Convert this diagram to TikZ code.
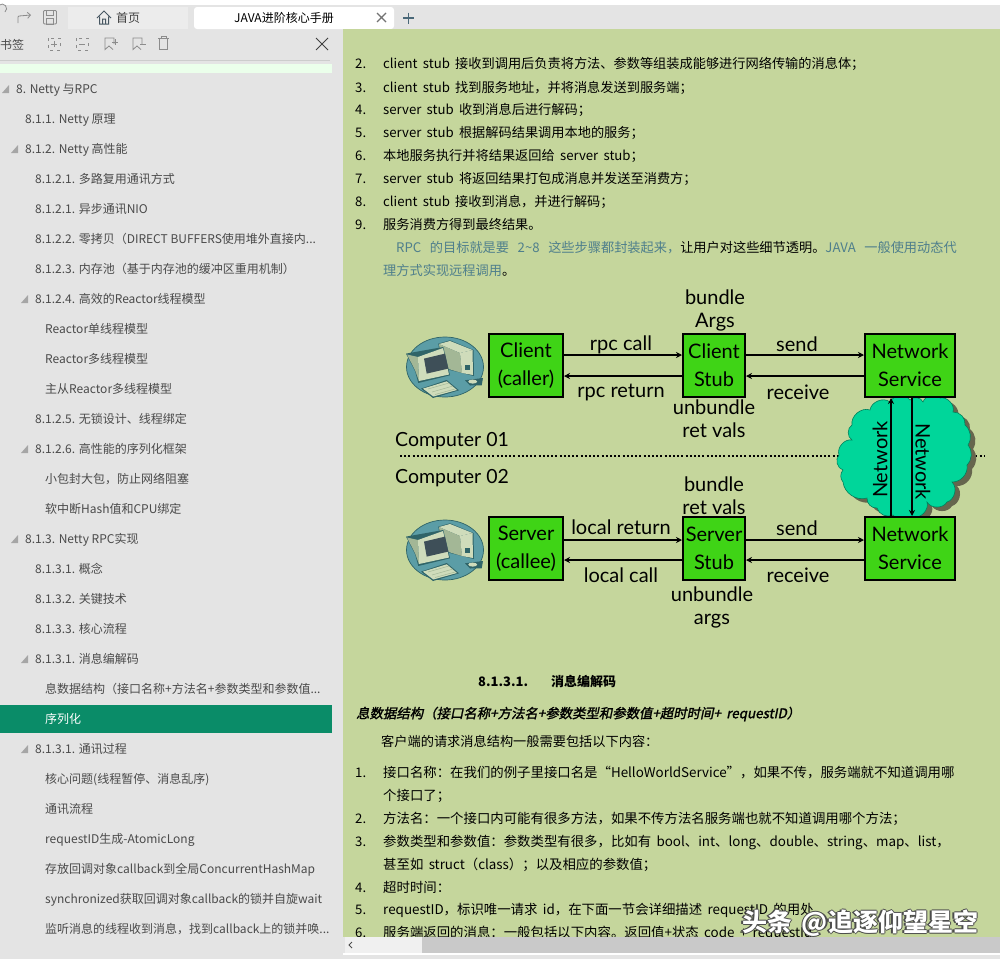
\documentclass[tikz,border=0pt]{standalone}
\usepackage{fontspec}
\setmainfont{Noto Sans CJK SC}
\newfontfamily\slantcjk[FakeSlant=0.2,FakeBold=1.6]{Noto Sans CJK SC}
\newfontfamily\comicfont{Lato}
\usetikzlibrary{arrows.meta,calc,positioning}
\definecolor{panelgray}{HTML}{E4E4E4}
\definecolor{pagegreen}{HTML}{C5D69C}
\definecolor{boxgreen}{HTML}{3FD416}
\definecolor{cloudgreen}{HTML}{00D69A}
\definecolor{cloudshadow}{HTML}{66664E}
\definecolor{selgreen}{HTML}{0A8C68}
\definecolor{toctext}{HTML}{4A4A4A}
\definecolor{linkblue}{HTML}{4F7F8C}
\definecolor{iconteal}{HTML}{5B9DA6}
\definecolor{icondark}{HTML}{2F6468}
\definecolor{iconpale}{HTML}{CFDCBB}
\definecolor{iconmid}{HTML}{A3B796}
\definecolor{iconscreen}{HTML}{3E4F58}
\tikzset{
  toclabel/.style={anchor=mid west,inner sep=0,yshift=-2.5,font=\fontsize{12}{12}\selectfont,text=toctext},
  pagelabel/.style={anchor=mid west,inner sep=0,yshift=-2.5,font=\fontsize{13.2}{13.2}\selectfont,text=black,execute at begin node={\spaceskip=.4em}},
  listlabel/.style={pagelabel,font=\fontsize{13.4}{13.4}\selectfont},
  netbox/.style={draw=black,line width=2pt,fill=boxgreen,minimum height=63,align=center,inner sep=0,font=\comicfont\fontsize{20}{28}\selectfont},
  flowlabel/.style={inner sep=0,yshift=-0.5,font=\comicfont\fontsize{20}{23}\selectfont,align=center},
  complabel/.style={anchor=mid west,inner sep=0,yshift=-4.5,font=\comicfont\fontsize{19.5}{20}\selectfont},
  flowline/.style={line width=1.7pt,-{Stealth[length=6pt,width=6pt]}},
  toolicon/.style={draw=black!45,line width=0.8pt},
  pccomp/.pic={
    \fill[iconteal] (0,0) ellipse (38.5 and 30);
    \draw[icondark,line width=0.7pt] (0,0) ellipse (38.5 and 30);
    \fill[icondark] (-6.7,-23.4) -- (5,-26.7) -- (28.5,-17) -- (29,9) -- (-3,1) -- cycle;
    \fill[iconpale] (-6,-23) -- (5,-26) -- (27.5,-17) -- (15,-14) -- cycle;
    \fill[iconmid] (-6,-23) -- (15,-14) -- (17,6) -- (-3,0) -- cycle;
    \fill[iconpale] (15,-14) -- (27.5,-17) -- (28,8) -- (17,6) -- cycle;
    \fill[icondark] (20,-2) rectangle (25,3);
    \fill[icondark] (-39,-13.4) -- (-1.7,-20) -- (5,8.3) -- (-26.7,16) -- (-30,4) -- cycle;
    \fill[iconmid] (-38,-12.5) -- (-27,-10) -- (-26,14) -- (-30,3) -- cycle;
    \fill[iconpale] (-27,-10) -- (-2,-19) -- (4,7.5) -- (-26,14) -- cycle;
    \fill[iconscreen] (-21,-8.4) -- (0,-13.4) -- (3.3,1.6) -- (-18.3,6.6) -- cycle;
    \fill[icondark] (-24,21.6) -- (1.7,13) -- (14,23.3) -- (-12,31) -- cycle;
    \fill[iconpale] (-22,21.6) -- (1.7,14.3) -- (12,23) -- (-11.7,29.5) -- cycle;
    \draw[iconmid,line width=0.5pt] (-17,22) -- (4,16) (-13,25) -- (8,19) (-10,27.5) -- (10,22);
    \fill[icondark] (20,13.3) -- (38,11) -- (36.7,18.3) -- (25,18.5) -- cycle;
    \fill[iconpale] (27.7,14.6) ellipse (4.5 and 2);
  }
}
\begin{document}
\begin{tikzpicture}[x=1pt,y=-1pt]
\useasboundingbox (0,0) rectangle (1000,959);
\fill[white] (0,0) rectangle (1000,959);
\fill[panelgray] (0,5) rectangle (1000,959);
\fill[white!30!panelgray] (68,7) rectangle (188,29);
\fill[white,rounded corners=3pt] (194,7) -- (394,7) -- (394,29) -- (194,29) -- cycle;
\fill[pagegreen] (343,29) rectangle (1000,937);
\fill[black!20] (0,60) rectangle (330,60.8);
\fill[green!8!white] (0,64) rectangle (332,73);
\fill[selgreen] (0,705) rectangle (332,733);

\draw[toolicon] (5,12) arc (50:-200:4.5);
\draw[toolicon,-{Straight Barb[length=3pt]}] (18,23) -- (18,17) arc (180:270:1) -- (31,15);
\draw[toolicon,rounded corners=1pt] (43.5,10.5) rectangle (56.5,24);
\draw[toolicon] (46.5,10.5) rectangle (53.5,15.5) (46.5,24) rectangle (53.5,18.5);
\draw[black!70!cyan,line width=1pt] (97,18) -- (104,11) -- (111,18) (99.5,16.5) -- (99.5,24) -- (108.5,24) -- (108.5,16.5) (102.5,24) -- (102.5,19) -- (105.5,19) -- (105.5,24);
\node[toclabel,text=black!75] (hometab) at (116,17) {首页};
\node[toclabel,anchor=mid,text=black] (doctab) at (284,17) {JAVA进阶核心手册};
\draw[black!55,line width=1.3pt] (377,13) -- (386,22) (386,13) -- (377,22);
\draw[black!60!cyan,line width=1.5pt] (403,18) -- (414,18) (408.5,12.5) -- (408.5,23.5);
\node[toclabel] (marktitle) at (0,44) {书签};
\foreach \iconx in {54,82}
  \draw[toolicon,dash pattern=on 3pt off 4pt] (\iconx-6,38) rectangle (\iconx+6,50);
\draw[toolicon] (51,44) -- (57,44) (54,41) -- (54,47) (79,44) -- (85,44);
\foreach \iconx in {110,138}
  \draw[toolicon] (\iconx+4,44) -- (\iconx+4,38) -- (\iconx-5,38) -- (\iconx-5,49.5) -- (\iconx-1,46) -- (\iconx+3,49.5);
\draw[toolicon] (112,42) -- (118,42) (115,39) -- (115,45) (140,44) -- (146,44);
\draw[toolicon] (158,38.5) -- (169,38.5) (161,38.5) -- (161,36.5) -- (166,36.5) -- (166,38.5) (159.5,38.5) rectangle (167.5,49.5);
\draw[black!75,line width=0.9pt] (316,38) -- (328,50) (328,38) -- (316,50);

\foreach \tocx/\tocy/\tocname [count=\n] in {
  16/88/{8. Netty 与RPC},
  25/118/{8.1.1. Netty 原理},
  25/148/{8.1.2. Netty 高性能},
  35/178/{8.1.2.1. 多路复用通讯方式},
  35/208/{8.1.2.1. 异步通讯NIO},
  35/238/{8.1.2.2. 零拷贝（DIRECT BUFFERS使用堆外直接内...},
  35/268/{8.1.2.3. 内存池（基于内存池的缓冲区重用机制）},
  35/298/{8.1.2.4. 高效的Reactor线程模型},
  45/328/{Reactor单线程模型},
  45/358/{Reactor多线程模型},
  45/388/{主从Reactor多线程模型},
  35/418/{8.1.2.5. 无锁设计、线程绑定},
  35/448/{8.1.2.6. 高性能的序列化框架},
  45/478/{小包封大包，防止网络阻塞},
  45/508/{软中断Hash值和CPU绑定},
  25/538/{8.1.3. Netty RPC实现},
  35/568/{8.1.3.1. 概念},
  35/598/{8.1.3.2. 关键技术},
  35/628/{8.1.3.3. 核心流程},
  35/658/{8.1.3.1. 消息编解码},
  45/688/{息数据结构（接口名称+方法名+参数类型和参数值...},
  35/748/{8.1.3.1. 通讯过程},
  45/778/{核心问题(线程暂停、消息乱序)},
  45/808/{通讯流程},
  45/838/{requestID生成-AtomicLong},
  45/868/{存放回调对象callback到全局ConcurrentHashMap},
  45/898/{synchronized获取回调对象callback的锁并自旋wait},
  45/928/{监听消息的线程收到消息，找到callback上的锁并唤...}}
  \node[toclabel] (toc\n) at (\tocx,\tocy) {\tocname};
\node[toclabel,text=white] (tocsel) at (45,718) {序列化};
\foreach \tocx/\tocy in {16/88,25/148,35/298,35/448,25/538,35/658,35/748}
  \fill[black!35] (\tocx-14,\tocy+5) -- (\tocx-7,\tocy+5) -- (\tocx-7,\tocy-3) -- cycle;

\foreach \lineno/\liney/\linetext in {
  2./63/{client stub 接收到调用后负责将方法、参数等组装成能够进行网络传输的消息体；},
  3./87/{client stub 找到服务地址，并将消息发送到服务端；},
  4./109/{server stub 收到消息后进行解码；},
  5./132/{server stub 根据解码结果调用本地的服务；},
  6./155/{本地服务执行并将结果返回给 server stub；},
  7./178/{server stub 将返回结果打包成消息并发送至消费方；},
  8./201/{client stub 接收到消息，并进行解码；},
  9./224/{服务消费方得到最终结果。}}{
  \node[pagelabel] (num\lineno) at (355,\liney) {\lineno};
  \node[pagelabel] (line\lineno) at (383,\liney) {\linetext};
}
\node[pagelabel,execute at begin node={\spaceskip=.65em}] (rpcgoal) at (396,247) {\textcolor{linkblue}{RPC 的目标就是要 2\textasciitilde8 这些步骤都封装起来，}让用户对这些细节透明。\textcolor{linkblue}{JAVA 一般使用动态代}};
\node[pagelabel] (rpcgoalb) at (383,270) {\textcolor{linkblue}{理方式实现远程调用}。};

\node[complabel] (comp1) at (395,439) {Computer 01};
\node[complabel] (comp2) at (395,476) {Computer 02};
\coordinate (dotstart) at (400,456);
\coordinate (dotend) at (985,456);
\draw[line width=2pt,dash pattern=on 2pt off 2.2pt] (dotstart) -- (dotend);

\def\cloudpath{(890,402) to[bend right=60] (870,410) to[bend right=60] (852,425) to[bend right=60] (852,440) to[bend right=60] (839,455) to[bend right=60] (843,470) to[bend right=40] (843,482) to[bend right=50] (867,498) to[bend right=50] (877,508) to[bend right=50] (893,515) to[bend right=50] (913,517) to[bend right=60] (927,502) to[bend right=60] (947,502) to[bend right=60] (952,482) to[bend right=50] (967,465) to[bend right=40] (968,445) to[bend right=40] (965,425) to[bend right=50] (953,412) to[bend right=60] (940,398) to[bend right=60] (923,402) to[bend right=60] (910,400) to[bend right=60] (890,402)}
\fill[cloudshadow,shift={(5,4)}] \cloudpath;
\draw[cloudgreen!60!black,fill=cloudgreen,line width=0.6pt] \cloudpath;

\pic at (445,367) {pccomp};
\pic at (445,550) {pccomp};

\node[netbox,minimum width=74] (client) at (526,365.5) {Client\\(caller)};
\node[netbox,minimum width=62] (cstub) at (714,365.5) {Client\\Stub};
\node[netbox,minimum width=90] (nsvone) at (910,365.5) {Network\\Service};
\node[netbox,minimum width=74] (server) at (526,548.5) {Server\\(callee)};
\node[netbox,minimum width=62] (sstub) at (714,548.5) {Server\\Stub};
\node[netbox,minimum width=90] (nsvtwo) at (910,548.5) {Network\\Service};

\draw[flowline] ([yshift=10.5]client.east) -- ([yshift=10.5]cstub.west);
\draw[flowline] ([yshift=-10.5]cstub.west) -- ([yshift=-10.5]client.east);
\draw[flowline] ([yshift=10.5]cstub.east) -- ([yshift=10.5]nsvone.west);
\draw[flowline] ([yshift=-10.5]nsvone.west) -- ([yshift=-10.5]cstub.east);
\draw[flowline] ([yshift=8.5]server.east) -- ([yshift=8.5]sstub.west);
\draw[flowline] ([yshift=-11.5]sstub.west) -- ([yshift=-11.5]server.east);
\draw[flowline] ([yshift=8.5]sstub.east) -- ([yshift=8.5]nsvtwo.west);
\draw[flowline] ([yshift=-11.5]nsvtwo.west) -- ([yshift=-11.5]sstub.east);
\draw[flowline] ([xshift=-19]nsvtwo.north) -- ([xshift=-19]nsvone.south);
\draw[flowline] ([xshift=2]nsvone.south) -- ([xshift=2]nsvtwo.north);

\node[flowlabel] (rpccall) at (621,344) {rpc call};
\node[flowlabel] (rpcret) at (621,392) {rpc return};
\node[flowlabel] (sendone) at (797,344) {send};
\node[flowlabel] (recvone) at (798,392) {receive};
\node[flowlabel] (bundleone) at (715,309.5) {bundle\\Args};
\node[flowlabel] (unbundleone) at (714,418.5) {unbundle\\ret vals};
\node[flowlabel] (bundletwo) at (714,495) {bundle\\ret vals};
\node[flowlabel] (localret) at (621,527) {local return};
\node[flowlabel] (localcall) at (621,575) {local call};
\node[flowlabel] (sendtwo) at (797,528) {send};
\node[flowlabel] (recvtwo) at (798,575) {receive};
\node[flowlabel] (unbundletwo) at (712,606.5) {unbundle\\args};
\node[flowlabel,xshift=-1,rotate=90] (netup) at (881,459) {Network};
\node[flowlabel,xshift=1,rotate=-90] (netdown) at (922,461) {Network};

\node[pagelabel,font=\bfseries\fontsize{13}{13}\selectfont] (secnum) at (478,681) {8.1.3.1.};
\node[pagelabel,font=\bfseries\fontsize{13}{13}\selectfont] (sectitle) at (551,681) {消息编解码};
\node[pagelabel,font=\slantcjk\fontsize{13.4}{13.4}\selectfont] (structtitle) at (356,713) {息数据结构（接口名称+方法名+参数类型和参数值+超时时间+ requestID）};
\node[pagelabel] (reqintro) at (381,741) {客户端的请求消息结构一般需要包括以下内容：};
\foreach \lineno/\liney/\linetext in {
  1./772/{接口名称：在我们的例子里接口名是“HelloWorldService”，如果不传，服务端就不知道调用哪},
  2./818/{方法名：一个接口内可能有很多方法，如果不传方法名服务端也就不知道调用哪个方法；},
  3./841/{参数类型和参数值：参数类型有很多，比如有 bool、int、long、double、string、map、list，},
  4./887/{超时时间：},
  5./909/{requestID，标识唯一请求 id，在下面一节会详细描述 requestID 的用处},
  6./932/{服务端返回的消息：一般包括以下内容。返回值+状态 code + requestId}}{
  \node[pagelabel] (reqnum\lineno) at (355,\liney) {\lineno};
  \node[listlabel] (reqline\lineno) at (383,\liney) {\linetext};
}
\node[listlabel] (reqwrapa) at (383,795) {个接口了；};
\node[listlabel] (reqwrapb) at (383,864) {甚至如 struct（class）；以及相应的参数值；};

\fill[panelgray] (343,937) rectangle (1000,959);
\fill[white!45!panelgray] (345,937) rectangle (422,953);
\fill[black!21] (422,937) rectangle (1000,953);
\fill[white] (343,953) rectangle (1000,954.5);
\draw[black!70,line width=1pt] (352,942) -- (349,945) -- (352,948);

\foreach \wx/\wy [count=\n] in {-1.2/0,1.2/0,0/-1.2,0/1.2}
  \node[pagelabel,text=black!70,font=\bfseries\fontsize{25}{25}\selectfont,anchor=mid] (markshade\n) at (860+\wx,926+\wy) {头条 @追逐仰望星空};
\node[pagelabel,text=white,font=\bfseries\fontsize{25}{25}\selectfont,anchor=mid] (watermark) at (860,926) {头条 @追逐仰望星空};
\end{tikzpicture}
\end{document}
